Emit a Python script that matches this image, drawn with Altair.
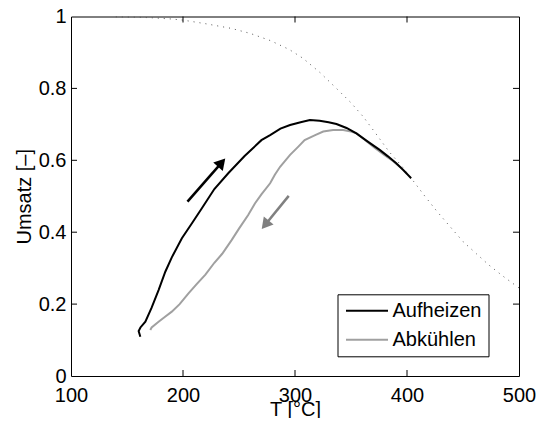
import altair as alt
import pandas as pd

FONT = "Liberation Sans"

# ---------------- data ----------------
series_names = ["Aufheizen", "Abkühlen"]
series_colors = ["#000000", "#a0a0a0"]

heat_T = [161.9, 160.4, 162.0, 166.4, 172.0, 178.2, 184.2, 190.0, 199.0, 208.0, 216.7,
          228.0, 240.4, 255.0, 270.0, 277.8, 287.0, 295.6, 305.0, 313.3, 322.0, 330.0,
          337.0, 346.0, 354.8, 365.0, 375.6, 383.0, 390.4, 397.0, 403.7]
heat_U = [0.109, 0.125, 0.135, 0.151, 0.190, 0.239, 0.290, 0.330, 0.383, 0.425, 0.466,
          0.520, 0.564, 0.612, 0.656, 0.670, 0.688, 0.698, 0.706, 0.712, 0.710, 0.706,
          0.701, 0.690, 0.675, 0.652, 0.629, 0.611, 0.592, 0.572, 0.550]

cool_T = [170.8, 172.0, 178.2, 184.0, 190.0, 197.0, 204.9, 212.0, 220.0, 228.0, 235.0,
          243.4, 250.0, 258.2, 264.2, 270.0, 277.8, 282.0, 286.7, 295.6, 303.0, 308.6,
          318.0, 325.2, 334.0, 343.0, 350.0, 355.0, 363.0, 371.0, 380.0, 387.4, 395.0, 400.0]
cool_U = [0.128, 0.135, 0.151, 0.165, 0.179, 0.200, 0.230, 0.255, 0.282, 0.315, 0.340,
          0.378, 0.410, 0.448, 0.480, 0.505, 0.536, 0.560, 0.582, 0.615, 0.638, 0.656,
          0.670, 0.680, 0.684, 0.684, 0.680, 0.675, 0.655, 0.635, 0.614, 0.598, 0.578, 0.562]

eq_T = [140, 160, 175, 190, 200, 220, 243, 260, 278, 295, 307, 322, 337, 350, 361, 372,
        384, 395, 405, 416, 427, 440, 450, 462, 473, 486, 500]
eq_U = [0.999, 0.998, 0.996, 0.993, 0.990, 0.980, 0.967, 0.953, 0.933, 0.908, 0.884,
        0.845, 0.800, 0.760, 0.721, 0.675, 0.624, 0.585, 0.545, 0.500, 0.457, 0.410,
        0.374, 0.340, 0.309, 0.277, 0.245]

# arrows: tail -> head (data coordinates)
arrow_heat_T = [204.0, 234.5]
arrow_heat_U = [0.485, 0.5935]
arrow_cool_T = [294.4, 273.4]
arrow_cool_U = [0.501, 0.4209]

x_ticks = [100, 200, 300, 400, 500]
y_ticks = [0, 0.2, 0.4, 0.6, 0.8, 1.0]
x_inner_ticks = [200, 300, 400]
y_inner_ticks = [0.2, 0.4, 0.6, 0.8]

W, H = 448, 359.5

# ---------------- tables ----------------
heat_df = pd.DataFrame({"T": heat_T, "U": heat_U, "Serie": series_names[0], "i": range(len(heat_T))})
cool_df = pd.DataFrame({"T": cool_T, "U": cool_U, "Serie": series_names[1], "i": range(len(cool_T))})
eq_df = pd.DataFrame({"T": eq_T, "U": eq_U})
ah_df = pd.DataFrame({"T": arrow_heat_T, "U": arrow_heat_U, "i": [0, 1]})
ac_df = pd.DataFrame({"T": arrow_cool_T, "U": arrow_cool_U, "i": [0, 1]})
xt_df = pd.DataFrame({"T": x_inner_ticks})
yt_df = pd.DataFrame({"U": y_inner_ticks})

xs = alt.X("T:Q", scale=alt.Scale(domain=[100, 500], nice=False, zero=False),
           axis=alt.Axis(values=x_ticks, title="T [°C]", format="d"))
ys = alt.Y("U:Q", scale=alt.Scale(domain=[0, 1], nice=False, zero=False),
           axis=alt.Axis(values=y_ticks, title="Umsatz [–]", format=".1~f"))

NB = "\u00a0"
color = alt.Color(
    "Serie:N",
    scale=alt.Scale(domain=series_names, range=series_colors),
    legend=alt.Legend(
        title=None, orient="none", legendX=266.5, legendY=277.8,
        fillColor="white", strokeColor="black", padding=6.5, cornerRadius=0,
        symbolType="M-3,0H3", symbolSize=196, symbolStrokeWidth=2,
        symbolOffset=13, labelOffset=15.5,
        labelFont=FONT, labelFontSize=20, labelColor="black",
        rowPadding=9, labelExpr=f"datum.label + '{NB}{NB}{NB}'",
    ),
)

eq_line = alt.Chart(eq_df).mark_line(color="#555555", strokeWidth=1, strokeDash=[1, 5]).encode(x=xs, y=ys)
cool_line = alt.Chart(cool_df).mark_line(strokeWidth=2).encode(x=xs, y=ys, color=color, order="i:Q")
heat_line = alt.Chart(heat_df).mark_line(strokeWidth=2).encode(x=xs, y=ys, color=color, order="i:Q")

ah_shaft = alt.Chart(ah_df).mark_line(color="black", strokeWidth=2.5).encode(x=xs, y=ys, order="i:Q")
ah_head = alt.Chart(ah_df[ah_df.i == 1]).mark_point(
    shape="triangle-up", filled=True, size=160, opacity=1, color="black", angle=41.3
).encode(x=xs, y=ys)
ac_shaft = alt.Chart(ac_df).mark_line(color="#808080", strokeWidth=2.5).encode(x=xs, y=ys, order="i:Q")
ac_head = alt.Chart(ac_df[ac_df.i == 1]).mark_point(
    shape="triangle-up", filled=True, size=160, opacity=1, color="#808080", angle=219.4
).encode(x=xs, y=ys)

# inward MATLAB-style ticks on all four sides
tick_b = alt.Chart(xt_df).mark_rule(color="black", strokeWidth=1).encode(x=xs, y=alt.value(H), y2=alt.value(H - 6))
tick_t = alt.Chart(xt_df).mark_rule(color="black", strokeWidth=1).encode(x=xs, y=alt.value(0), y2=alt.value(6))
tick_l = alt.Chart(yt_df).mark_rule(color="black", strokeWidth=1).encode(y=ys, x=alt.value(0), x2=alt.value(6))
tick_r = alt.Chart(yt_df).mark_rule(color="black", strokeWidth=1).encode(y=ys, x=alt.value(W), x2=alt.value(W - 6))

chart = alt.layer(
    eq_line, cool_line, heat_line, ah_shaft, ah_head, ac_shaft, ac_head,
    tick_b, tick_t, tick_l, tick_r,
).properties(
    width=W, height=H,
    autosize=alt.AutoSizeParams(type="none"),
    padding={"left": 63, "top": 8.5, "right": 17, "bottom": 42},
    background="white",
).configure_view(
    stroke="black", strokeWidth=1,
).configure_axis(
    domain=False, grid=False, ticks=False, tickSize=0,
    labelFont=FONT, labelFontSize=20, labelColor="black",
    titleFont=FONT, titleFontSize=20, titleFontWeight="normal", titleColor="black",
).configure_axisX(
    labelPadding=9, labelFlush=False, titleBaseline="alphabetic", titleY=39,
).configure_axisY(
    labelPadding=5, titleX=-41, titleBaseline="alphabetic",
)

chart.save("out.html", embed_options={"renderer": "svg", "actions": False})
